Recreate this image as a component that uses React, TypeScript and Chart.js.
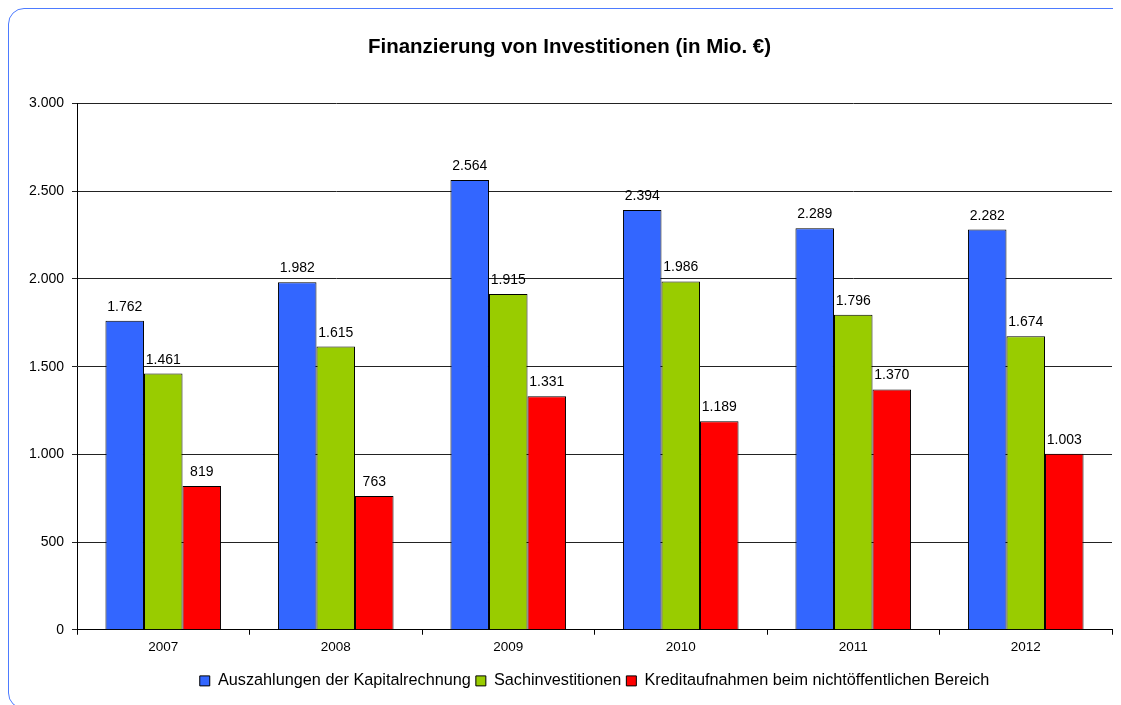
import React, { useEffect, useRef } from "react";
import { Chart, registerables } from "chart.js";

Chart.register(...registerables);

const categories = ["2007", "2008", "2009", "2010", "2011", "2012"];
const seriesNames = [
  "Auszahlungen der Kapitalrechnung",
  "Sachinvestitionen",
  "Kreditaufnahmen beim nichtöffentlichen Bereich",
];
const auszahlungen = [1762, 1982, 2564, 2394, 2289, 2282];
const sachinvestitionen = [1461, 1615, 1915, 1986, 1796, 1674];
const kreditaufnahmen = [819, 763, 1331, 1189, 1370, 1003];
const seriesColors = ["#3366FF", "#99CC00", "#FF0000"];
const titleText = "Finanzierung von Investitionen (in Mio. €)";

const FONT = "'Liberation Sans', Arial, sans-serif";

const fmt = (v: number) =>
  String(Math.round(v)).replace(/\B(?=(\d{3})+(?!\d))/g, ".");

const valueLabels = {
  id: "valueLabels",
  afterDatasetsDraw(chart: any) {
    const ctx = chart.ctx;
    ctx.save();
    ctx.font = `14px ${FONT}`;
    ctx.fillStyle = "#000";
    ctx.textAlign = "center";
    ctx.textBaseline = "alphabetic";
    chart.data.datasets.forEach((ds: any, i: number) => {
      const meta = chart.getDatasetMeta(i);
      meta.data.forEach((bar: any, j: number) => {
        ctx.fillText(fmt(ds.data[j]), bar.x, bar.y - 10);
      });
    });
    ctx.restore();
  },
};

// centre the legend under the plot area and nudge the title like the original
const boxShift = {
  id: "boxShift",
  afterLayout(chart: any) {
    const area = chart.chartArea;
    if (chart.legend) {
      chart.legend.left = area.left;
      chart.legend.right = area.right;
    }
    if (chart.titleBlock) {
      chart.titleBlock.left += 9;
      chart.titleBlock.right += 9;
    }
  },
};

export default function App() {
  const ref = useRef<HTMLCanvasElement>(null);
  useEffect(() => {
    if (!ref.current) return;
    const data = [auszahlungen, sachinvestitionen, kreditaufnahmen];
    const chart = new Chart(ref.current, {
      type: "bar",
      data: {
        labels: categories,
        datasets: data.map((d, i) => ({
          label: seriesNames[i],
          data: d,
          backgroundColor: seriesColors[i],
          borderColor: "#000",
          borderWidth: 1,
          categoryPercentage: 0.67,
          barPercentage: 1,
        })),
      },
      options: {
        animation: false,
        responsive: false,
        maintainAspectRatio: false,
        layout: { padding: { left: 0, right: 2, top: 0, bottom: 5 } },
        plugins: {
          title: {
            display: true,
            text: titleText,
            color: "#000",
            font: { family: FONT, size: 20.5, weight: "bold" },
            padding: { top: 26, bottom: 44 },
          },
          legend: {
            position: "bottom",
            labels: {
              color: "#000",
              font: { family: FONT, size: 16.25 },
              boxWidth: 10,
              boxHeight: 10,
              padding: 5,
              generateLabels: (c: any) =>
                c.data.datasets.map((ds: any, i: number) => ({
                  text: ds.label,
                  fillStyle: ds.backgroundColor,
                  strokeStyle: "#000",
                  lineWidth: 1,
                  datasetIndex: i,
                  fontColor: "#000",
                })),
            },
          },
          tooltip: { enabled: false },
        },
        scales: {
          x: {
            offset: true,
            afterFit: (s: any) => {
              s.height = 38;
            },
            grid: {
              offset: true,
              drawOnChartArea: false,
              drawTicks: true,
              tickLength: 5,
              color: "#000",
            },
            border: { color: "#000", width: 1 },
            ticks: {
              color: "#000",
              font: { family: FONT, size: 13.5 },
              padding: 4,
            },
          },
          y: {
            min: 0,
            max: 3000,
            afterFit: (s: any) => {
              s.width = 68;
            },
            grid: {
              color: "#222",
              tickLength: 5,
              drawTicks: true,
            },
            border: { color: "#000", width: 1 },
            ticks: {
              stepSize: 500,
              color: "#000",
              font: { family: FONT, size: 14 },
              padding: 8,
              callback: (v: any) => fmt(Number(v)),
            },
          },
        },
      },
      plugins: [valueLabels, boxShift],
    });
    return () => chart.destroy();
  }, []);

  return (
    <div style={{ width: 1113, height: 697, overflow: "hidden" }}>
      <div
        style={{
          position: "relative",
          width: 1123,
          height: 701,
          border: "1px solid #4d7bff",
          borderRadius: 16,
          boxSizing: "border-box",
          background: "#fff",
          overflow: "hidden",
        }}
      >
        <canvas
          ref={ref}
          width={1105}
          height={695}
          style={{ display: "block", width: 1105, height: 695 }}
        />
      </div>
    </div>
  );
}
